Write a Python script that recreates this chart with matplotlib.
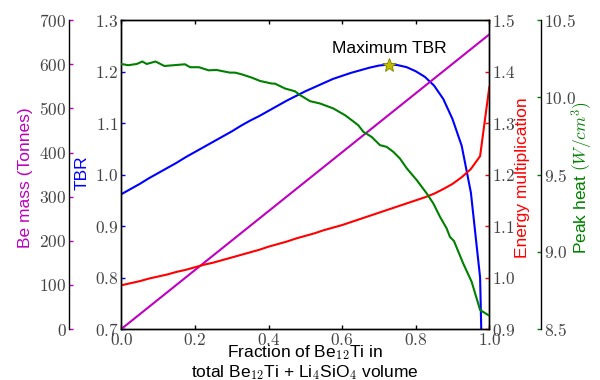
import matplotlib
matplotlib.use('Agg')
import matplotlib.pyplot as plt
from matplotlib.ticker import FuncFormatter, MultipleLocator

plt.rcParams['font.family'] = ['Liberation Sans', 'DejaVu Sans']
plt.rcParams['mathtext.fontset'] = 'cm'

# ---- data ----
frac = [0.000, 0.025, 0.050, 0.075, 0.100, 0.125, 0.150, 0.175, 0.200, 0.225,
        0.250, 0.275, 0.300, 0.325, 0.350, 0.375, 0.400, 0.425, 0.450, 0.475,
        0.500, 0.525, 0.550, 0.575, 0.600, 0.625, 0.650, 0.675, 0.700, 0.725,
        0.750, 0.775, 0.800, 0.825, 0.850, 0.875, 0.900, 0.925, 0.950, 0.975,
        1.000]
tbr = [0.962, 0.972, 0.982, 0.993, 1.003, 1.013, 1.023, 1.034, 1.044, 1.054,
       1.064, 1.074, 1.084, 1.095, 1.105, 1.114, 1.124, 1.134, 1.144, 1.153,
       1.162, 1.170, 1.178, 1.186, 1.192, 1.198, 1.203, 1.208, 1.212, 1.214,
       1.213, 1.209, 1.201, 1.190, 1.173, 1.147, 1.108, 1.056, 0.965, 0.800,
       0.000]
energy_mult = [0.985, 0.989, 0.993, 0.998, 1.002, 1.006, 1.011, 1.015, 1.020, 1.025,
               1.029, 1.034, 1.039, 1.044, 1.049, 1.054, 1.060, 1.065, 1.070, 1.076,
               1.081, 1.086, 1.092, 1.097, 1.102, 1.108, 1.114, 1.120, 1.126, 1.132,
               1.138, 1.144, 1.150, 1.156, 1.163, 1.172, 1.182, 1.195, 1.211, 1.236,
               1.370]
mass_frac = [0.0, 0.25, 0.5, 0.75, 1.0]
be_mass = [0, 167, 334, 501, 668]
heat_frac = [0.000, 0.019, 0.042, 0.057, 0.069, 0.093, 0.117, 0.173, 0.187, 0.211,
             0.237, 0.259, 0.295, 0.309, 0.327, 0.354, 0.377, 0.409, 0.417, 0.445,
             0.472, 0.486, 0.513, 0.540, 0.576, 0.608, 0.626, 0.644, 0.658, 0.680,
             0.703, 0.721, 0.739, 0.757, 0.776, 0.803, 0.830, 0.848, 0.866, 0.884,
             0.893, 0.904, 0.929, 0.952, 0.975, 1.000]
peak_heat = [10.217, 10.209, 10.217, 10.233, 10.217, 10.233, 10.204, 10.215, 10.196, 10.196,
             10.176, 10.178, 10.161, 10.161, 10.150, 10.129, 10.107, 10.090, 10.090, 10.058,
             10.040, 10.015, 9.976, 9.961, 9.929, 9.885, 9.853, 9.820, 9.777, 9.745,
             9.691, 9.680, 9.648, 9.605, 9.540, 9.464, 9.378, 9.313, 9.227, 9.152,
             9.097, 9.070, 8.925, 8.806, 8.623, 8.586]
max_tbr_x = 0.727
max_tbr_y = 1.214

tick_color = '#444444'
fs_tick = 12.5
fs_label = 12.5

def fmt1(v, p):
    return f'${v:.1f}$'

def fmt0(v, p):
    return f'${v:.0f}$'

fig = plt.figure(figsize=(6, 3.8), dpi=100)
ax = fig.add_axes([0.2022, 0.1342, 0.6133, 0.8124])

# main: TBR
ax.plot(frac, tbr, color='b', lw=1.5)
ax.plot([max_tbr_x], [max_tbr_y], marker='*', color=(0.75, 0.75, 0), markersize=10,
        markeredgecolor=(0.5, 0.5, 0), markeredgewidth=0.6, zorder=5)
ax.text(max_tbr_x, 1.246, 'Maximum TBR', ha='center', va='center', fontsize=12.5)
ax.set_xlim(0, 1)
ax.set_ylim(0.7, 1.3)
ax.xaxis.set_major_locator(MultipleLocator(0.2))
ax.yaxis.set_major_locator(MultipleLocator(0.1))
ax.xaxis.set_major_formatter(FuncFormatter(fmt1))
ax.yaxis.set_major_formatter(FuncFormatter(fmt1))
ax.tick_params(axis='x', direction='in', top=True, bottom=True, length=3, width=1,
               colors='k', labelcolor=tick_color, labelsize=fs_tick, pad=2)
ax.tick_params(axis='y', direction='in', left=True, right=False, length=3, width=1,
               colors='b', labelcolor=tick_color, labelsize=fs_tick, pad=2)
ax.set_xlabel('Fraction of Be$_{12}$Ti in\ntotal Be$_{12}$Ti + Li$_4$SiO$_4$ volume',
              fontsize=fs_label, linespacing=1.05, va='top')
ax.xaxis.set_label_coords(0.5, -0.045)
ax.set_ylabel('TBR', color='b', fontsize=fs_label, va='center')
ax.yaxis.set_label_coords(-0.107, 0.505)

# Be mass
axm = ax.twinx()
axm.plot(mass_frac, be_mass, color='m', lw=1.5)
axm.set_ylim(0, 700)
axm.spines['right'].set_visible(False)
axm.spines['top'].set_visible(False)
axm.spines['bottom'].set_visible(False)
axm.spines['left'].set_visible(True)
axm.spines['left'].set_position(('axes', -0.1413))
axm.yaxis.set_ticks_position('left')
axm.yaxis.set_label_position('left')
axm.yaxis.set_major_locator(MultipleLocator(100))
axm.yaxis.set_major_formatter(FuncFormatter(fmt0))
axm.tick_params(axis='y', direction='in', length=3, width=1, colors='m',
                labelcolor=tick_color, labelsize=fs_tick, pad=2)
axm.set_ylabel('Be mass (Tonnes)', color='m', fontsize=fs_label, va='center')
axm.yaxis.set_label_coords(-0.2617, 0.49)

# Energy multiplication
axe = ax.twinx()
axe.plot(frac, energy_mult, color='r', lw=1.5)
axe.set_ylim(0.9, 1.5)
axe.yaxis.set_major_locator(MultipleLocator(0.1))
axe.yaxis.set_major_formatter(FuncFormatter(fmt1))
axe.tick_params(axis='y', direction='in', length=3, width=1, colors='r',
                labelcolor=tick_color, labelsize=fs_tick, pad=2)
axe.set_ylabel('Energy multiplication', color='r', fontsize=fs_label, va='center',
               rotation=90)
axe.yaxis.set_label_coords(1.089, 0.49)

# Peak heat
axh = ax.twinx()
axh.plot(heat_frac, peak_heat, color='g', lw=1.5)
axh.set_ylim(8.5, 10.5)
axh.spines['right'].set_position(('axes', 1.14))
axh.spines['top'].set_visible(False)
axh.spines['bottom'].set_visible(False)
axh.spines['left'].set_visible(False)
axh.yaxis.set_major_locator(MultipleLocator(0.5))
axh.yaxis.set_major_formatter(FuncFormatter(fmt1))
axh.tick_params(axis='y', direction='in', length=3, width=1, colors='g',
                labelcolor=tick_color, labelsize=fs_tick, pad=2)
axh.set_ylabel('Peak heat $(W/cm^3)$', color='g', fontsize=fs_label, va='center',
               rotation=90)
axh.yaxis.set_label_coords(1.254, 0.49)

for a in (ax, axm, axe, axh):
    for s in a.spines.values():
        s.set_linewidth(1.0)

fig.savefig('out.png', dpi=100)
